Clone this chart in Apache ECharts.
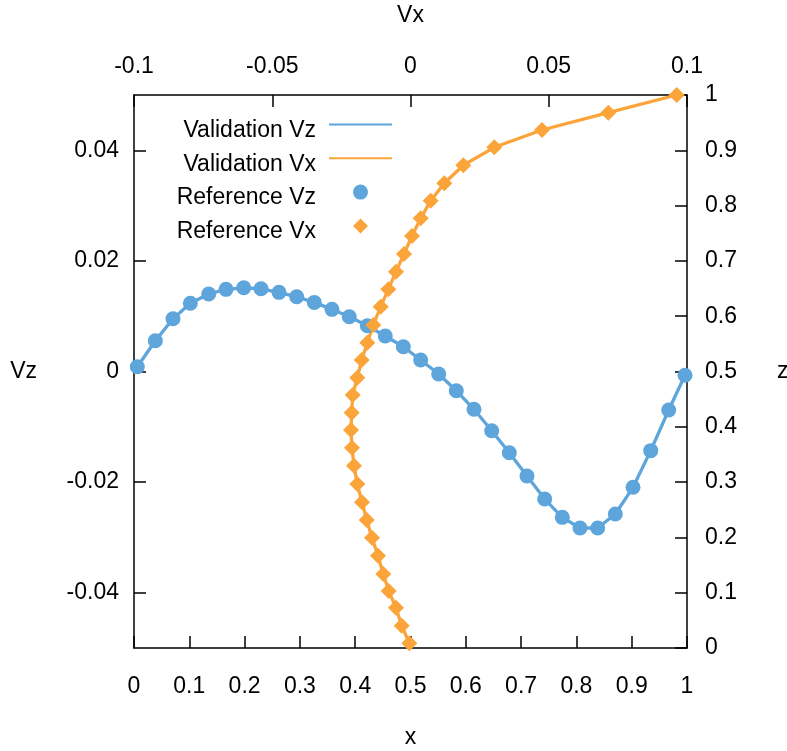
<!DOCTYPE html>
<html>
<head>
<meta charset="utf-8">
<script src="https://cdn.jsdelivr.net/npm/echarts@6/dist/echarts.min.js"></script>
<style>
html,body{margin:0;padding:0;background:#fff;}
#chart{width:787px;height:751px;}
</style>
</head>
<body>
<div id="chart"></div>
<script>
// Reference Vz profile along x (bottom / left axes)
const xRef = [0.006, 0.0386, 0.0705, 0.1019, 0.1351, 0.1664, 0.1984, 0.2297, 0.2622, 0.2942, 0.3260, 0.3580, 0.3893, 0.4219, 0.4544, 0.4870, 0.5184, 0.5510, 0.5828, 0.6148, 0.6468, 0.6787, 0.7107, 0.7427, 0.7745, 0.8065, 0.8385, 0.8704, 0.9024, 0.9344, 0.9669, 0.9964];
const vzRef = [0.00087, 0.00557, 0.00955, 0.01233, 0.01401, 0.01486, 0.01514, 0.01496, 0.01431, 0.01351, 0.01250, 0.01124, 0.00991, 0.00828, 0.00642, 0.00448, 0.00208, -0.00045, -0.00347, -0.00683, -0.01071, -0.01468, -0.01890, -0.02306, -0.02637, -0.02830, -0.02830, -0.02577, -0.02094, -0.01431, -0.00696, -0.00069];
// Reference Vx profile along z (top / right axes)
const zRef = [0.0085, 0.0403, 0.0729, 0.1031, 0.1338, 0.1669, 0.1995, 0.2315, 0.2635, 0.2966, 0.3297, 0.3622, 0.3942, 0.4255, 0.4575, 0.4888, 0.5208, 0.5521, 0.5841, 0.6172, 0.6486, 0.6805, 0.7125, 0.7450, 0.7770, 0.8089, 0.8403, 0.8729, 0.9054, 0.9367, 0.9680, 1.0];
const vxRef = [-0.00043, -0.00318, -0.00524, -0.00788, -0.00984, -0.01175, -0.01392, -0.01584, -0.01754, -0.01924, -0.02043, -0.02116, -0.02152, -0.02127, -0.02090, -0.01924, -0.01765, -0.01562, -0.01345, -0.01078, -0.00803, -0.00524, -0.00235, 0.00054, 0.00369, 0.00731, 0.01222, 0.01910, 0.03031, 0.04756, 0.07154, 0.09627];
// Tick labels
const xTicks = [0, 0.1, 0.2, 0.3, 0.4, 0.5, 0.6, 0.7, 0.8, 0.9, 1];
const vzTicks = [-0.04, -0.02, 0, 0.02, 0.04];
const vxTicks = [-0.1, -0.05, 0, 0.05, 0.1];
const zTicks = [0, 0.1, 0.2, 0.3, 0.4, 0.5, 0.6, 0.7, 0.8, 0.9, 1];
const seriesNames = ['Validation Vz', 'Validation Vx', 'Reference Vz', 'Reference Vx'];

const BLUE = '#5DA5DA', ORANGE = '#FAA43A';
const FONT = 'Liberation Sans';
const FS = 23;

const vzPairs = xRef.map((x, i) => [x, vzRef[i]]);
const vxPairs = vxRef.map((v, i) => [v, zRef[i]]);

const axisCommon = {
  type: 'value',
  splitLine: { show: false },
  axisLine: { show: true, onZero: false, lineStyle: { color: '#000', width: 1.5 } },
  axisTick: { show: true, inside: true, length: 12, lineStyle: { color: '#000', width: 1.5 } },
  axisLabel: { color: '#000', fontFamily: FONT, fontSize: FS },
  nameTextStyle: { color: '#000', fontFamily: FONT, fontSize: FS },
  nameLocation: 'middle',
  nameRotate: 0
};
function ax(extra) {
  const o = JSON.parse(JSON.stringify(axisCommon));
  for (const k in extra) {
    if (typeof extra[k] === 'object' && !Array.isArray(extra[k]) && o[k]) Object.assign(o[k], extra[k]);
    else o[k] = extra[k];
  }
  return o;
}

const chart = echarts.init(document.getElementById('chart'), null, { renderer: 'canvas' });
chart.setOption({
  backgroundColor: '#fff',
  animation: false,
  grid: { left: 134, right: 100, top: 95, bottom: 103, containLabel: false, outerBoundsMode: 'none' },
  legend: {
    orient: 'vertical',
    align: 'right',
    right: 394,
    top: 107,
    padding: 0,
    itemGap: -1.2,
    itemWidth: 63,
    itemHeight: 15,
    selectedMode: false,
    formatter: function (name) { return '{t|' + name + '}'; },
    textStyle: {
      color: '#000', fontFamily: FONT, fontSize: FS,
      rich: { t: { color: '#000', fontFamily: FONT, fontSize: FS, lineHeight: 21.5, padding: [12, 8, 0, 0] } }
    },
    data: [
      { name: seriesNames[0], itemStyle: { opacity: 0 } },
      { name: seriesNames[1], itemStyle: { opacity: 0 } },
      { name: seriesNames[2], icon: 'circle' },
      { name: seriesNames[3], icon: 'path://M0,-1L1,0L0,1L-1,0Z' }
    ]
  },
  xAxis: [
    ax({ position: 'bottom', min: 0, max: 1, interval: 0.1, name: 'x', nameGap: 78,
         axisLabel: { margin: 27, customValues: xTicks }, axisTick: { customValues: xTicks } }),
    ax({ position: 'top', min: -0.1, max: 0.1, interval: 0.05, name: 'Vx', nameGap: 68,
         axisLabel: { margin: 17, customValues: vxTicks }, axisTick: { customValues: vxTicks } })
  ],
  yAxis: [
    ax({ position: 'left', min: -0.05, max: 0.05, name: 'Vz', nameGap: 97,
         axisLabel: { margin: 15, customValues: vzTicks }, axisTick: { customValues: vzTicks } }),
    ax({ position: 'right', min: 0, max: 1, interval: 0.1, name: 'z', nameGap: 90,
         axisLabel: { margin: 18, customValues: zTicks }, axisTick: { customValues: zTicks } })
  ],
  series: [
    { name: seriesNames[0], type: 'line', xAxisIndex: 0, yAxisIndex: 0, data: vzPairs,
      symbol: 'none', lineStyle: { color: BLUE, width: 3.3 }, itemStyle: { color: BLUE }, z: 2 },
    { name: seriesNames[1], type: 'line', xAxisIndex: 1, yAxisIndex: 1, data: vxPairs,
      symbol: 'none', lineStyle: { color: ORANGE, width: 3.3 }, itemStyle: { color: ORANGE }, z: 3 },
    { name: seriesNames[2], type: 'scatter', xAxisIndex: 0, yAxisIndex: 0, data: vzPairs,
      symbol: 'circle', symbolSize: 15, itemStyle: { color: BLUE, opacity: 1 }, z: 4 },
    { name: seriesNames[3], type: 'scatter', xAxisIndex: 1, yAxisIndex: 1, data: vxPairs,
      symbol: 'diamond', symbolSize: 16, itemStyle: { color: ORANGE, opacity: 1 }, z: 5 }
  ]
});
</script>
</body>
</html>
